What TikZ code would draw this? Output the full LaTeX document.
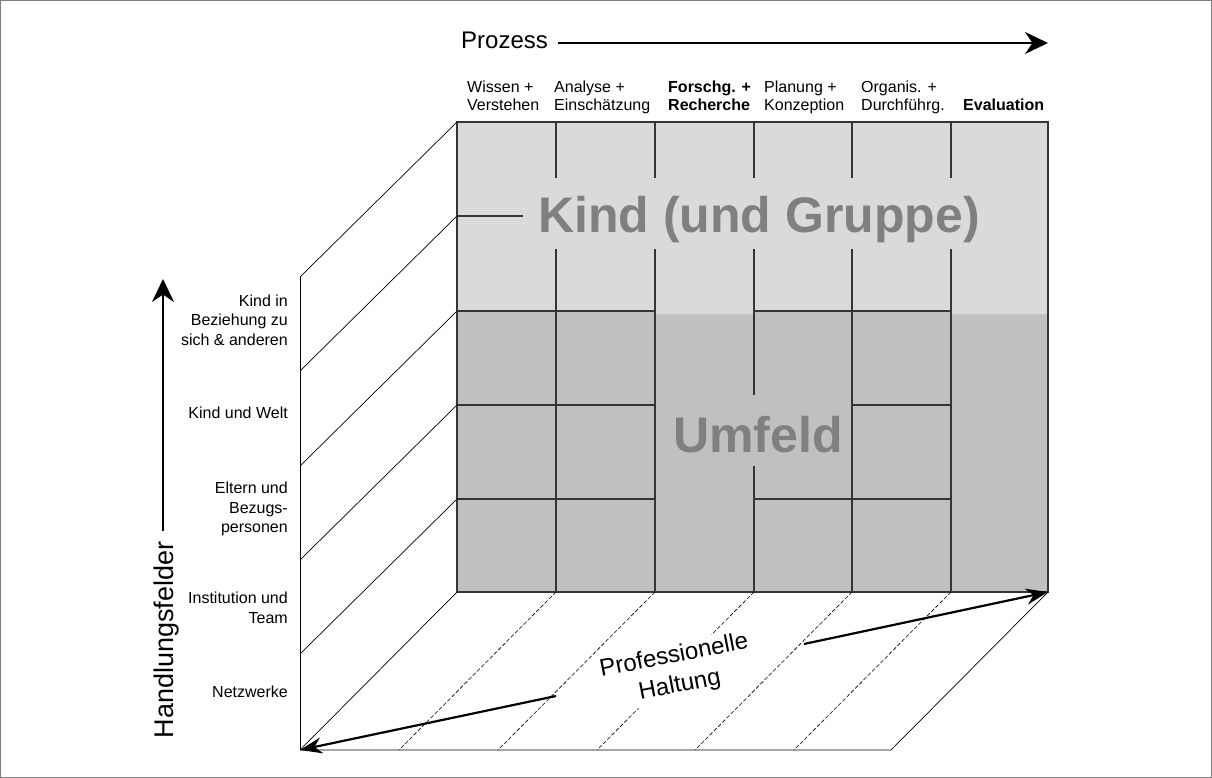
\documentclass[tikz,border=0pt]{standalone}
\usepackage{fontspec}
\setmainfont{Liberation Sans}
\usetikzlibrary{arrows.meta}

\definecolor{hellgrau}{HTML}{DADADA}
\definecolor{mittelgrau}{HTML}{C0C0C0}
\definecolor{schrift}{HTML}{808080}
\definecolor{gitter}{HTML}{353535}

\begin{document}
\begin{tikzpicture}[x=1pt,y=-1pt,
	kopf/.style={anchor=base west,inner sep=0pt,align=left,font=\fontsize{16}{18}\selectfont},
	kopffett/.style={kopf,font=\fontsize{16}{18}\selectfont\bfseries},
	feld/.style={anchor=east,inner sep=0pt,align=right,font=\fontsize{16}{19.5}\selectfont},
	gross/.style={anchor=base,inner sep=0pt,text=schrift,font=\fontsize{50}{56}\selectfont\bfseries},
	gitterlinie/.style={draw=gitter,line width=1.1pt},
	duenn/.style={line width=0.7pt},
	strich/.style={line width=0.6pt,dash pattern=on 4pt off 2pt},
	pfeil/.style={line width=2.4pt,-{Stealth[length=23pt,width=22pt]}},
	bodenpfeil/.style={line width=2.2pt,-{Stealth[length=22pt,width=16pt]}}]
	\useasboundingbox (0,0) rectangle (1212,778);
	\draw[gray,line width=0.8pt] (0.4,0.4) rectangle (1211.6,777.6);

	% Vorderseite
	\fill[hellgrau] (457,122) rectangle (1048,311);
	\fill[mittelgrau] (457,311) rectangle (1048,592);
	\fill[hellgrau] (655,311) rectangle (754,314) (951,311) rectangle (1048,314);
	\foreach \x in {556,655,754,852,951} {
		\draw[gitterlinie] (\x,122) -- (\x,178);
		\draw[gitterlinie] (\x,249) -- (\x,311);
	}
	\foreach \x in {556,655,852,951}
		\draw[gitterlinie] (\x,311) -- (\x,592);
	\draw[gitterlinie] (754,311) -- (754,395) (754,466) -- (754,592);
	\draw[gitterlinie] (457,216) -- (523,216);
	\foreach \y in {311,499} {
		\draw[gitterlinie] (457,\y) -- (655,\y);
		\draw[gitterlinie] (754,\y) -- (951,\y);
	}
	\draw[gitterlinie] (457,405) -- (655,405) (852,405) -- (951,405);
	\draw[draw=gitter,line width=1.5pt] (457,122) rectangle (1048,592);

	\node[gross] (kind) at (759,232) {Kind (und Gruppe)};
	\node[gross] (umfeld) at (758,452) {Umfeld};

	% linke Wand
	\foreach \y/\l in {122/277,216/371,311/466,405/560,499/654,592/750}
		\draw[duenn] (457,\y) -- (300,\l);
	\draw[duenn] (300,277) -- (300,750);

	% Boden
	\draw[duenn] (300,750) -- (891,750) -- (1048,592);
	\foreach \x/\b in {556/399,655/498,754/597,852/695,951/794}
		\draw[strich] (\x,592) -- (\b,750);
	\node[fill=white,rotate=11,align=center,inner sep=3pt,
		font=\fontsize{24}{30}\selectfont] (haltung) at (677,671) {Professionelle\\Haltung};
	\coordinate (ecke) at (300,750);
	\coordinate (vorne) at (1048,592);
	\coordinate (links) at (556,696);
	\coordinate (rechts) at (804,644);
	\draw[bodenpfeil] (links) -- (ecke);
	\draw[bodenpfeil] (rechts) -- (vorne);

	% Prozess
	\node[anchor=base west,inner sep=0pt,font=\fontsize{24}{28}\selectfont] (prozess) at (461,49) {Prozess};
	\coordinate (prozende) at (1048,43);
	\draw[pfeil] ([xshift=10pt]prozess.east |- prozende) -- (prozende);

	\node[kopf] (wissen) at (467,111) {Wissen +\\Verstehen};
	\node[kopf] (analyse) at (554,111) {Analyse +\\Einschätzung};
	\node[kopffett] (forschung) at (668,111) {Forschg. +\\Recherche};
	\node[kopf] (planung) at (764,111) {Planung +\\Konzeption};
	\node[kopf] (organis) at (861,111) {Organis. +\\Durchführg.};
	\node[kopffett] (evaluation) at (963,111) {Evaluation};

	% Handlungsfelder
	\node[anchor=base,rotate=90,inner sep=0pt,font=\fontsize{27}{30}\selectfont] (hfelder) at (173,640) {Handlungsfelder};
	\coordinate (hfende) at (163,279);
	\draw[pfeil] ([yshift=10pt]hfelder.east -| hfende) -- (hfende);

	\node[feld] (beziehung) at (288,320) {Kind in\\Beziehung zu\\sich \& anderen};
	\node[feld] (welt) at (288,413) {Kind und Welt};
	\node[feld] (eltern) at (288,509) {Eltern und\\Bezugs-\\personen};
	\node[feld] (institution) at (288,608) {Institution und\\Team};
	\node[feld] (netzwerke) at (288,692) {Netzwerke};
\end{tikzpicture}
\end{document}
